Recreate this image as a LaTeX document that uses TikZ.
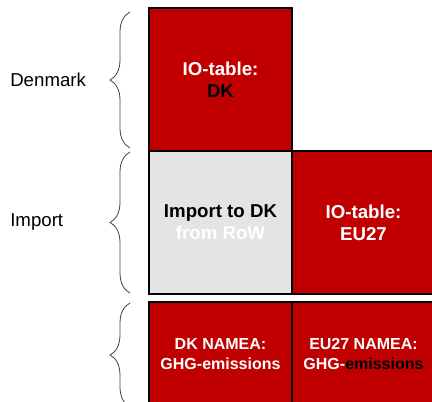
\documentclass[tikz,border=0pt]{standalone}
\usepackage{fontspec}
\setmainfont{Liberation Sans}
\usetikzlibrary{decorations.pathreplacing}
\definecolor{iored}{RGB}{192,0,0}
\definecolor{impgray}{RGB}{228,228,228}
\begin{document}
\begin{tikzpicture}[x=0.75pt,y=-0.75pt]
    \tikzstyle{cell}=[draw=black, line width=1.1pt, fill=iored, text=white, align=center, inner sep=0pt,
        minimum width=107.25pt, minimum height=107.25pt, font=\fontsize{14}{16.5}\selectfont\bfseries];
    \tikzstyle{namea}=[cell, minimum height=78pt, font=\fontsize{12}{15}\selectfont\bfseries];
    \tikzstyle{sidetext}=[anchor=west, inner sep=0pt, font=\fontsize{14}{16.5}\selectfont];
    \tikzstyle{curly}=[draw=black!75, line width=0.6pt, decorate, decoration={brace, amplitude=15pt}];
    \useasboundingbox (0,0) rectangle (432,401);
    \clip (0,0) rectangle (432,401);
    % the tables
    \node[cell] (dk) at (220.5,79.5) {IO-table:\\\textcolor{black}{DK}};
    \node[cell, fill=impgray, text=black] (imp) at (220.5,222.5) {Import to DK\\\textcolor{white}{from RoW}};
    \node[cell] (eu) at (363.5,222.5) {IO-table:\\EU27};
    \node[namea] (namdk) at (220.5,354) {DK NAMEA:\\GHG-emissions};
    \node[namea] (nameu) at (363.5,354) {EU27 NAMEA:\\GHG-\textcolor{black}{emissions}};
    % braces and labels
    \draw[curly] (130,148) -- (130,12);
    \draw[curly] (130,293) -- (130,152);
    \draw[curly] (130,407) -- (130,303);
    \node[sidetext] (denmark) at (10,80) {Denmark};
    \node[sidetext] (import) at (10,222) {Import};
\end{tikzpicture}
\end{document}
